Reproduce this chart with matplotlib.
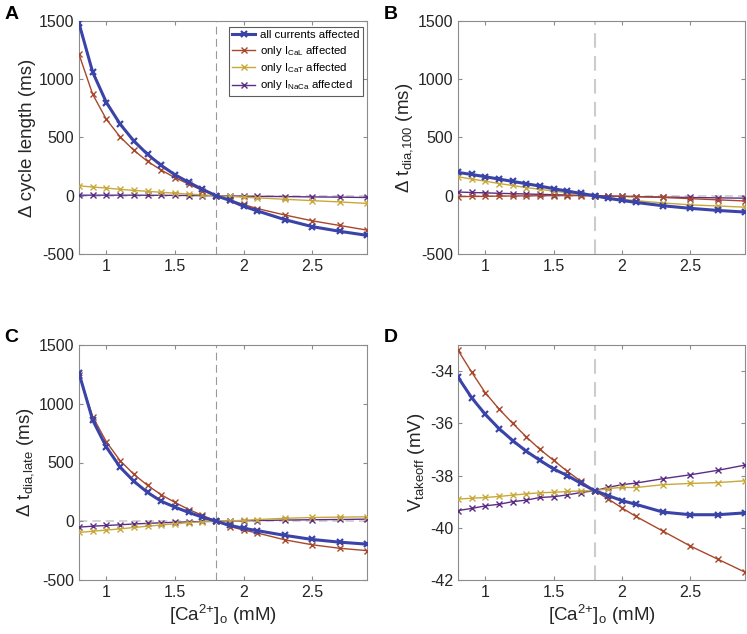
import numpy as np
import matplotlib
matplotlib.use('Agg')
import matplotlib.pyplot as plt

plt.rcParams['font.family'] = ['Liberation Sans', 'DejaVu Sans']
plt.rcParams['mathtext.default'] = 'regular'
plt.rcParams['axes.unicode_minus'] = False

## Data ##################################################################
ca = [0.8, 0.9, 1.0, 1.1, 1.2, 1.3, 1.4, 1.5, 1.6, 1.7, 1.8, 1.9, 2.0, 2.1, 2.3, 2.5, 2.7, 2.9]

# A: delta cycle length (ms)
cl_all  = [1480, 1060, 800, 615, 470, 355, 260, 180, 115, 55, 0, -40, -90, -130, -205, -265, -305, -340]
cl_cal  = [1215, 870, 655, 505, 390, 295, 220, 155, 100, 45, 0, -35, -75, -110, -165, -215, -255, -295]
cl_cat  = [85, 75, 66, 55, 46, 38, 30, 22, 14, 7, 0, -6, -12, -18, -30, -42, -53, -66]
cl_naca = [5, 5, 5, 5, 5, 4, 4, 3, 2, 1, 0, -2, -3, -5, -7, -10, -12, -15]

# B: delta t_dia,100 (ms)
d100_all  = [200, 183, 163, 143, 123, 103, 83, 60, 40, 20, 0, -22, -40, -57, -86, -108, -126, -140]
d100_cal  = [-8, -6, -5, -3, -2, -1, 0, 1, 1, 1, 0, -2, -5, -8, -15, -25, -35, -45]
d100_cat  = [163, 143, 125, 105, 88, 70, 55, 40, 26, 12, 0, -15, -30, -42, -62, -78, -88, -98]
d100_naca = [32, 28, 25, 21, 18, 15, 12, 9, 6, 3, 0, -3, -5, -7, -11, -15, -18, -21]

# C: delta t_dia,late (ms)
dl_all  = [1260, 860, 630, 460, 340, 245, 170, 120, 75, 35, 0, -35, -60, -80, -120, -155, -178, -195]
dl_cal  = [1245, 890, 675, 515, 400, 305, 225, 160, 100, 50, 0, -45, -75, -100, -158, -200, -230, -250]
dl_cat  = [-95, -85, -75, -65, -53, -42, -32, -22, -12, -5, 0, 3, 8, 14, 25, 32, 35, 38]
dl_naca = [-50, -42, -36, -30, -23, -18, -13, -9, -5, -2, 0, 2, 4, 6, 10, 13, 15, 18]

# D: V_takeoff (mV)
v_all  = [-34.23, -35.02, -35.66, -36.2, -36.66, -37.07, -37.42, -37.75, -38.0, -38.3, -38.58,
          -38.77, -38.96, -39.1, -39.4, -39.5, -39.5, -39.43]
v_cal  = [-33.2, -34.04, -34.83, -35.45, -36.0, -36.52, -37.0, -37.42, -37.84, -38.22, -38.58,
          -38.9, -39.24, -39.56, -40.13, -40.7, -41.2, -41.7]
v_cat  = [-38.9, -38.87, -38.84, -38.8, -38.75, -38.7, -38.66, -38.64, -38.61, -38.59, -38.58,
          -38.5, -38.45, -38.46, -38.35, -38.3, -38.27, -38.2]
v_naca = [-39.34, -39.26, -39.16, -39.1, -39.0, -38.94, -38.84, -38.81, -38.74, -38.65, -38.58,
          -38.45, -38.35, -38.29, -38.12, -37.97, -37.8, -37.6]

labels = ['all currents affected', 'only I$_{CaL}$ affected',
          'only I$_{CaT}$ affected', 'only I$_{NaCa}$ affected']

## Styles ################################################################
c_all, c_cal, c_cat, c_naca = '#3a43a8', '#a8472a', '#c9a83a', '#5b2d86'
tick_col = '#262626'
spine_col = '#8c8c8c'
xlabel = '[Ca$^{2{+}}$]$_o$ (mM)'

## Figure ################################################################
fig = plt.figure(figsize=(7.47, 6.34), dpi=100)
W, H = 747, 634
boxes = {
    'A': (79, 21, 367, 254),
    'B': (458, 21, 745, 254),
    'C': (79, 345, 367, 580),
    'D': (458, 345, 745, 580),
}


def make_ax(key):
    x0, y0, x1, y1 = boxes[key]
    ax = fig.add_axes([x0 / W, 1 - y1 / H, (x1 - x0) / W, (y1 - y0) / H])
    for s in ax.spines.values():
        s.set_color(spine_col)
        s.set_linewidth(0.8)
    ax.tick_params(direction='in', top=True, right=True, length=3,
                   color=spine_col, labelcolor=tick_col, labelsize=11.5)
    ax.set_xlim(0.8, 2.9)
    ax.set_xticks([1, 1.5, 2, 2.5])
    ax.set_xticklabels(['1', '1.5', '2', '2.5'])
    ax.text(-0.26, 1.03, key, transform=ax.transAxes, fontsize=14,
            fontweight='bold', color='black', va='center', ha='left')
    return ax


def draw(ax, all_, cal, cat, naca, vcol, vlw, zero=True):
    if zero:
        ax.axhline(0, color='#cccccc', lw=1.2, ls=(0, (5, 3)), zorder=1)
    ax.axvline(1.8, color=vcol, lw=vlw, ls=(0, (7, 4)), zorder=1)
    ax.plot(ca, naca, color=c_naca, lw=1.0, marker='x', ms=4, mew=1.0, zorder=3)
    ax.plot(ca, cat, color=c_cat, lw=1.0, marker='x', ms=4, mew=1.0, zorder=3)
    ax.plot(ca, cal, color=c_cal, lw=1.0, marker='x', ms=4, mew=1.0, zorder=3)
    ax.plot(ca, all_, color=c_all, lw=2.2, marker='x', ms=4, mew=1.6, zorder=4)


ax_a = make_ax('A')
draw(ax_a, cl_all, cl_cal, cl_cat, cl_naca, '#999999', 0.8)
ax_a.set_ylim(-500, 1500)
ax_a.set_yticks([-500, 0, 500, 1000, 1500])
ax_a.set_ylabel('Δ cycle length (ms)', fontsize=13.5, color=tick_col, labelpad=2)

ax_b = make_ax('B')
draw(ax_b, d100_all, d100_cal, d100_cat, d100_naca, '#cccccc', 1.5)
ax_b.set_ylim(-500, 1500)
ax_b.set_yticks([-500, 0, 500, 1000, 1500])
ax_b.set_ylabel('Δ t$_{dia{,}100}$ (ms)', fontsize=13.5, color=tick_col, labelpad=2)

ax_c = make_ax('C')
draw(ax_c, dl_all, dl_cal, dl_cat, dl_naca, '#999999', 0.8)
ax_c.set_ylim(-500, 1500)
ax_c.set_yticks([-500, 0, 500, 1000, 1500])
ax_c.set_ylabel('Δ t$_{dia{,}late}$ (ms)', fontsize=13.5, color=tick_col, labelpad=2)
ax_c.set_xlabel(xlabel, fontsize=13.5, color=tick_col, labelpad=2)

ax_d = make_ax('D')
draw(ax_d, v_all, v_cal, v_cat, v_naca, '#cccccc', 1.5, zero=False)
ax_d.set_ylim(-42, -33)
ax_d.set_yticks([-42, -40, -38, -36, -34])
ax_d.set_ylabel('V$_{takeoff}$ (mV)', fontsize=13.5, color=tick_col, labelpad=2)
ax_d.set_xlabel(xlabel, fontsize=13.5, color=tick_col, labelpad=2)

## Legend ###############################################################
handles = ax_a.get_lines()[::-1][:4]
leg = ax_a.legend(handles, labels, loc='upper right', fontsize=8.2,
                  frameon=True, fancybox=False, edgecolor='#333333',
                  bbox_to_anchor=(0.985, 0.975),
                  borderaxespad=0.0, handlelength=2.0, handletextpad=0.4,
                  labelspacing=0.3, borderpad=0.3)
leg.get_frame().set_linewidth(0.8)

fig.savefig('out.png', dpi=100)
